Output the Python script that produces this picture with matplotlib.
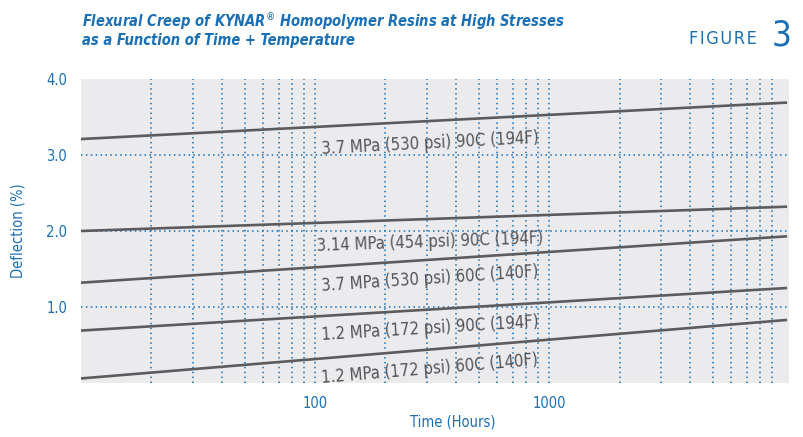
"""
Flexural creep of KYNAR homopolymer resins, figure 3
"""

import numpy as np
import matplotlib
matplotlib.use("Agg")
import matplotlib.pyplot as plt
from matplotlib.ticker import FixedLocator, NullFormatter, FixedFormatter

plt.rcParams['font.family'] = ['DejaVu Sans Condensed', 'DejaVu Sans']
plt.rcParams['font.stretch'] = 'condensed'

blue = "#1a6fb5"
grey_line = "#5c5c5e"

# 数据
hours = [10, 10400]
curves = [
    [3.21, 3.69],   # 3.7 MPa 90C
    [2.00, 2.32],   # 3.14 MPa 90C
    [1.32, 1.93],   # 3.7 MPa 60C
    [0.69, 1.25],   # 1.2 MPa 90C
    [0.06, 0.83],   # 1.2 MPa 60C
]
labels = [
    "3.7 MPa (530 psi) 90C (194F)",
    "3.14 MPa (454 psi) 90C (194F)",
    "3.7 MPa (530 psi) 60C (140F)",
    "1.2 MPa (172 psi) 90C (194F)",
    "1.2 MPa (172 psi) 60C (140F)",
]
label_x = 310
label_y = [3.15, 1.86, 1.37, 0.72, 0.19]

y_ticks = [1.0, 2.0, 3.0, 4.0]
y_ticklabels = ["1.0", "2.0", "3.0", "4.0"]
x_major = [100, 1000]
x_grid = [20, 30, 40, 50, 60, 70, 80, 90, 100,
          200, 300, 400, 500, 600, 700, 800, 900, 1000,
          2000, 3000, 4000, 5000, 6000, 7000, 8000, 9000]

fig = plt.figure(figsize=(8.04, 4.37), dpi=100)
ax = fig.add_axes([81 / 804, 54 / 437, 708 / 804, 304 / 437])
ax.set_facecolor("#ebebed")
ax.set_xscale("log")
ax.set_xlim(10, 10600)
ax.set_ylim(0, 4.0)

# 网格
for gx in x_grid:
    ax.axvline(gx, color=blue, linestyle=(0, (1, 2.2)), linewidth=1.1, zorder=1)
for gy in [1.0, 2.0, 3.0]:
    ax.axhline(gy, color=blue, linestyle=(0, (1, 2.2)), linewidth=1.1, zorder=1)

for c in curves:
    ax.plot(hours, c, color=grey_line, linewidth=1.9, solid_capstyle="butt", zorder=3)

for s in ax.spines.values():
    s.set_visible(False)

ax.xaxis.set_major_locator(FixedLocator(x_major))
ax.xaxis.set_major_formatter(FixedFormatter(["100", "1000"]))
ax.xaxis.set_minor_formatter(NullFormatter())
ax.xaxis.set_minor_locator(FixedLocator([]))
ax.set_yticks(y_ticks)
ax.set_yticklabels(y_ticklabels)
ax.tick_params(axis="both", length=0, colors=blue, labelsize=10.5)
ax.tick_params(axis="y", pad=10)
ax.tick_params(axis="x", pad=9)

ax.set_xlabel("Time (Hours)", color=blue, fontsize=10.5)
ax.xaxis.set_label_coords(0.525, -0.105)
ax.set_ylabel("Deflection (%)", color=blue, fontsize=10.5)
ax.yaxis.set_label_coords(-0.078, 0.5)

# 曲线标注，角度按显示坐标计算
fig.canvas.draw()
for c, lab, ly in zip(curves, labels, label_y):
    p0 = ax.transData.transform((hours[0], c[0]))
    p1 = ax.transData.transform((hours[1], c[1]))
    ang = np.degrees(np.arctan2(p1[1] - p0[1], p1[0] - p0[0]))
    ax.text(label_x, ly, lab, color="#555557", fontsize=12, rotation=ang,
            rotation_mode="anchor", ha="center", va="center", zorder=4)

fig.text(82 / 804, 1 - 21 / 437, "Flexural Creep of KYNAR$^{\\circledR}$ Homopolymer Resins at High Stresses",
         color=blue, fontsize=10.5, fontweight="bold", fontstyle="italic", va="center")
fig.text(82 / 804, 1 - 40 / 437, "as a Function of Time + Temperature",
         color=blue, fontsize=10.5, fontweight="bold", fontstyle="italic", va="center")
fig.text(757 / 804, 1 - 44 / 437, "F\u200aI\u200aG\u200aU\u200aR\u200aE", color=blue, fontsize=13,
         ha="right", va="baseline")
fig.text(772 / 804, 1 - 45 / 437, "3", color=blue, fontsize=25, ha="left", va="baseline")

fig.savefig("out.png", dpi=100)
